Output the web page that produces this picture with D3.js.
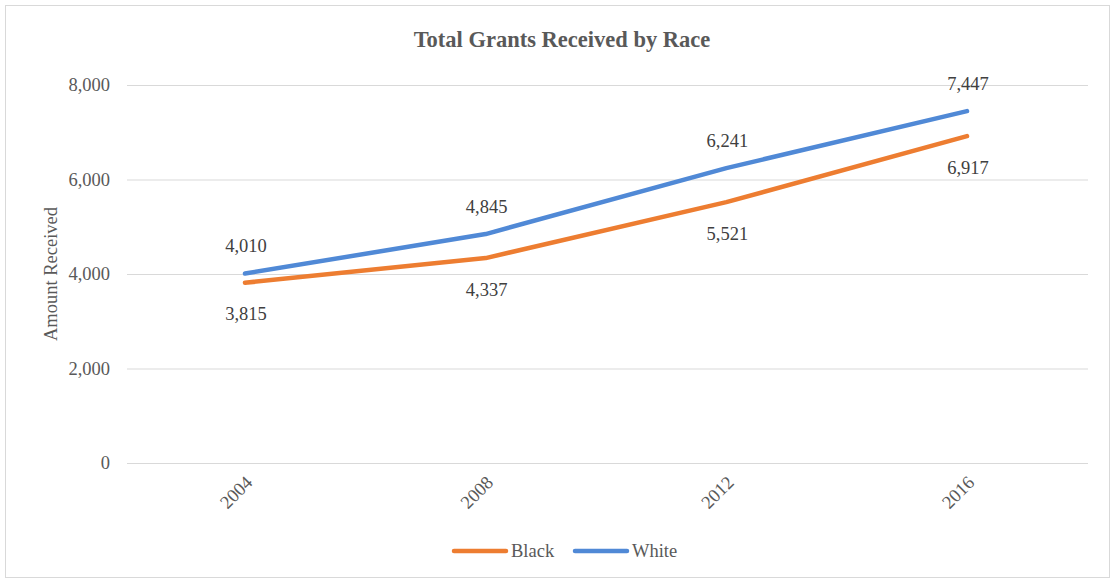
<!DOCTYPE html>
<html><head><meta charset="utf-8">
<script src="https://cdn.jsdelivr.net/npm/d3@7"></script>
<style>body{margin:0;background:#fff;} text{font-family:"Liberation Serif","Times New Roman",serif;}</style>
</head><body>
<svg id="c" width="1115" height="583"></svg>
<script>
const categories = ["2004","2008","2012","2016"];
const black = [3815,4337,5521,6917];
const white = [4010,4845,6241,7447];
const yTicks = [0,2000,4000,6000,8000];
const seriesNames = ["Black","White"];
const colors = ["#ED7D31","#5089D6"];

const svg = d3.select("#c");
svg.append("rect").attr("x",5.5).attr("y",5.5).attr("width",1104).attr("height",572)
  .attr("fill","#fff").attr("stroke","#d9d9d9");

const x = d3.scalePoint().domain(categories).range([245,967]);
const y = d3.scaleLinear().domain([0,8000]).range([463,85]);
const FS = 18.5;

const g = svg.append("g");
g.selectAll("line.grid").data(yTicks).enter().append("line")
  .attr("x1",127).attr("x2",1088).attr("y1",d=>y(d)+0.5).attr("y2",d=>y(d)+0.5)
  .attr("stroke","#d9d9d9").attr("stroke-width",1);

const fmt = d3.format(",");
g.selectAll("text.yt").data(yTicks).enter().append("text")
  .attr("x",110).attr("y",d=>y(d)).attr("dy","0.35em").attr("text-anchor","end")
  .attr("font-size",FS).attr("fill","#595959").text(d=>fmt(d));

g.selectAll("text.xt").data(categories).enter().append("text")
  .attr("transform",d=>`translate(${x(d)+4},${479}) rotate(-45)`)
  .attr("text-anchor","end").attr("dy","0.35em")
  .attr("font-size",FS).attr("fill","#595959").text(d=>d);

svg.append("text").attr("transform","translate(51,274) rotate(-90)")
  .attr("text-anchor","middle").attr("dy","0.35em").attr("font-size",FS).attr("fill","#595959")
  .text("Amount Received");

svg.append("text").attr("x",562).attr("y",47).attr("text-anchor","middle")
  .attr("font-size",22.5).attr("font-weight","bold").attr("fill","#595959")
  .text("Total Grants Received by Race");

const line = d3.line().x((d,i)=>x(categories[i])).y(d=>y(d));
[black,white].forEach((s,k)=>{
  g.append("path").datum(s).attr("d",line).attr("fill","none")
    .attr("stroke",colors[k]).attr("stroke-width",4.5).attr("stroke-linecap","round").attr("stroke-linejoin","round");
});

// labels: white above, black below
g.selectAll("text.wl").data(white).enter().append("text")
  .attr("x",(d,i)=>x(categories[i])+1).attr("y",d=>y(d)-28).attr("dy","0.35em")
  .attr("text-anchor","middle").attr("font-size",FS).attr("fill","#404040").text(d=>fmt(d));
g.selectAll("text.bl").data(black).enter().append("text")
  .attr("x",(d,i)=>x(categories[i])+1).attr("y",d=>y(d)+31).attr("dy","0.35em")
  .attr("text-anchor","middle").attr("font-size",FS).attr("fill","#404040").text(d=>fmt(d));

// legend
const lg = svg.append("g");
const lx = [452,573];
seriesNames.forEach((n,k)=>{
  lg.append("line").attr("x1",lx[k]+2).attr("x2",lx[k]+54).attr("y1",551).attr("y2",551)
    .attr("stroke",colors[k]).attr("stroke-width",4.5).attr("stroke-linecap","round");
  lg.append("text").attr("x",lx[k]+59).attr("y",551).attr("dy","0.35em")
    .attr("font-size",FS).attr("fill","#595959").text(n);
});
</script>
</body></html>
